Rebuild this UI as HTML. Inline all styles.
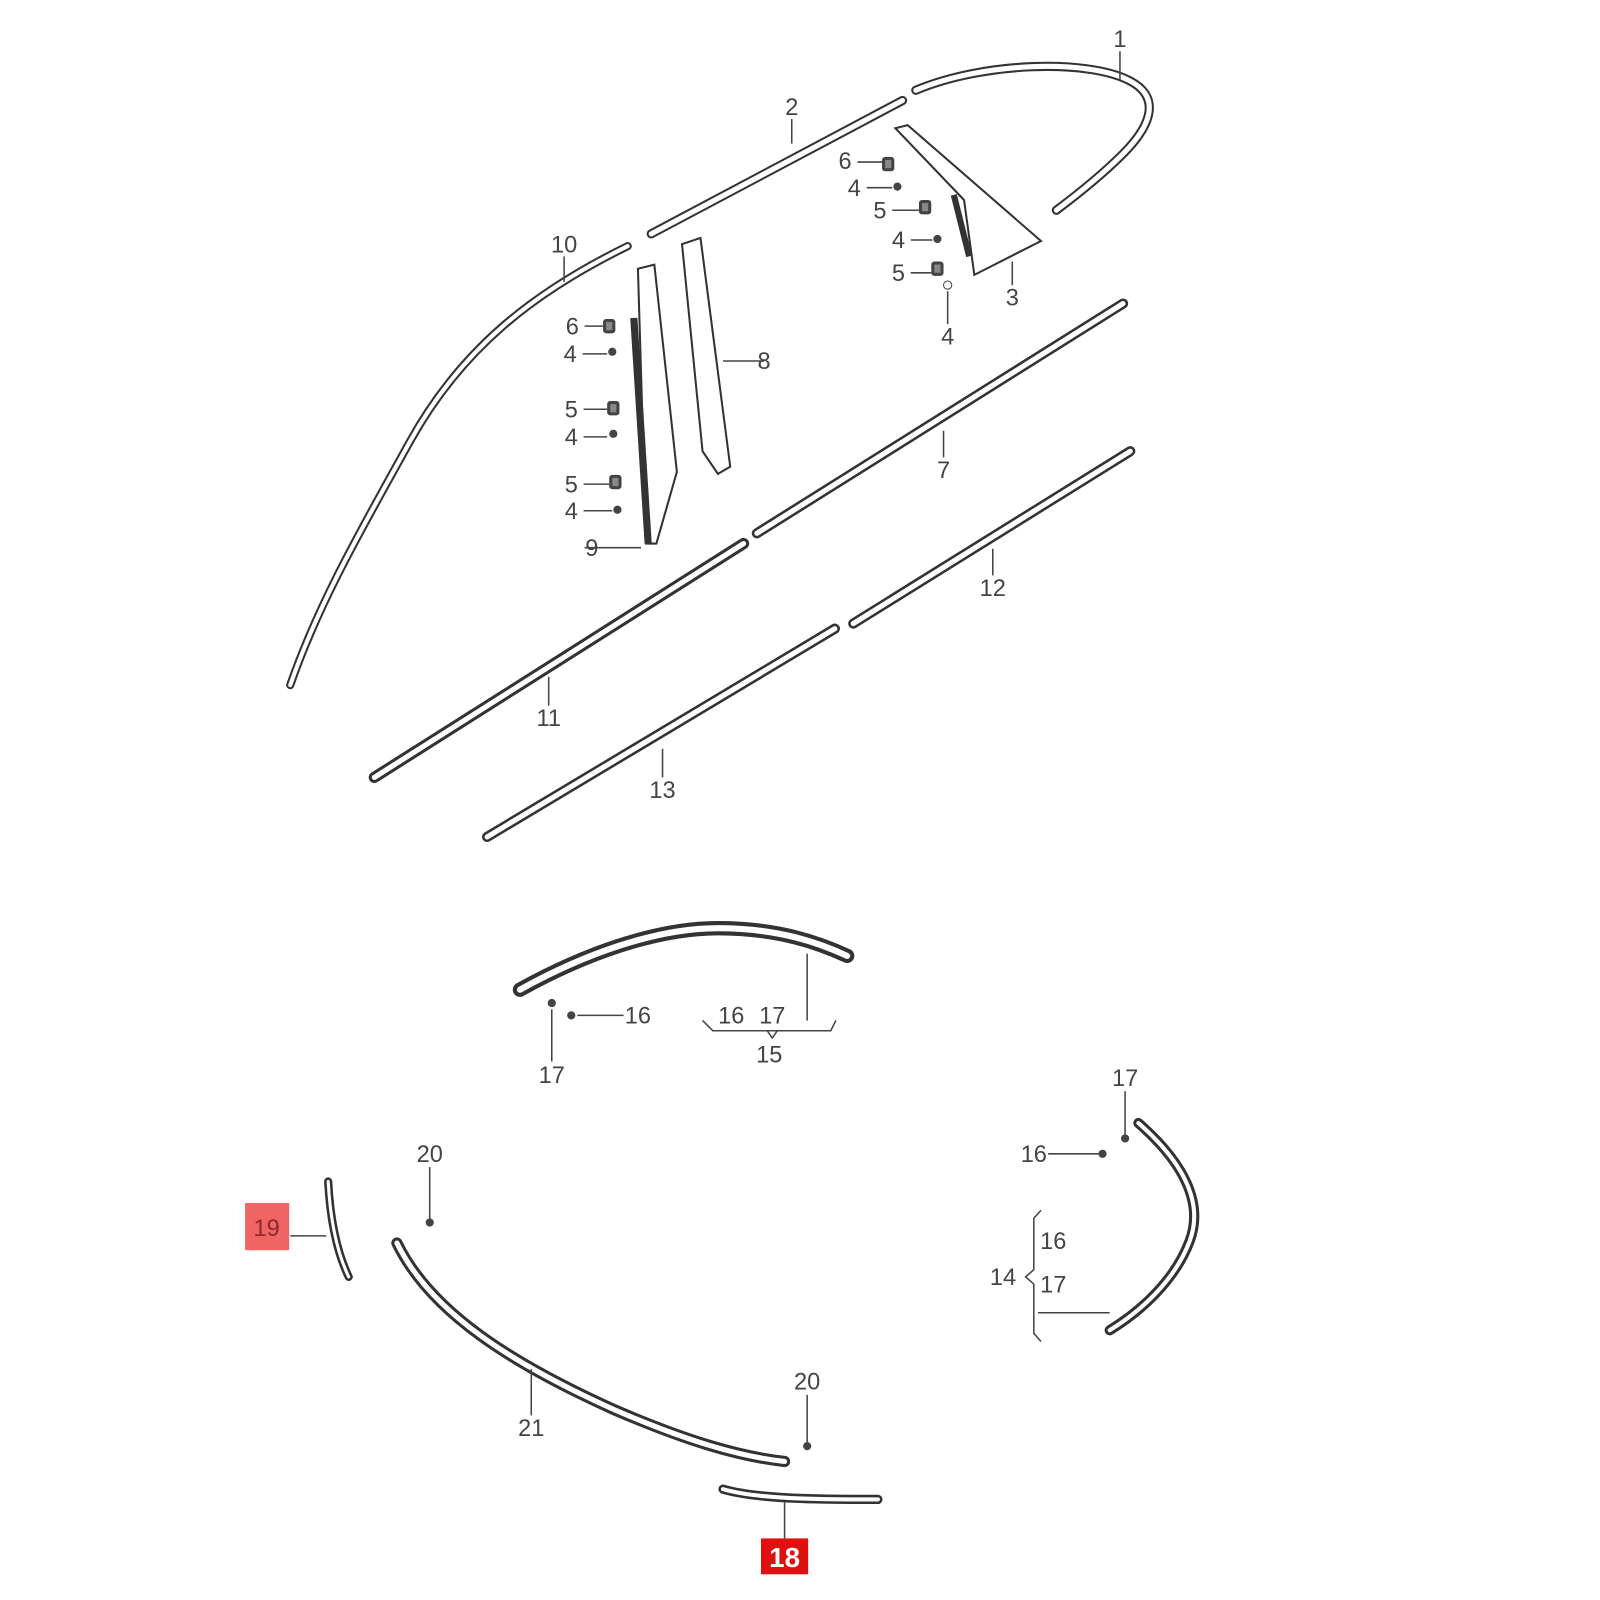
<!DOCTYPE html>
<html><head><meta charset="utf-8"><style>
html,body{margin:0;padding:0;background:#fff}
svg{display:block}
text{font-family:"Liberation Sans",sans-serif;font-size:23px;fill:#444}
.o{fill:none;stroke:#333;stroke-linecap:round;stroke-linejoin:round}
.i{fill:none;stroke:#fff;stroke-linecap:round;stroke-linejoin:round}
.l{stroke:#444;stroke-width:1.5;fill:none}
</style></head><body>
<svg width="1600" height="1600" viewBox="0 0 1600 1600">
<defs>
<g id="dot"><circle r="4" fill="#444"/></g>
<g id="nut"><rect x="-6" y="-7" width="12" height="14" rx="3" fill="#444"/><rect x="-3" y="-4" width="6" height="8" fill="#888"/></g>
</defs>
<g transform="scale(1.0256)">
<g>
<path class="o" stroke-width="9" d="M893,88 C960,60 1060,58 1100,78 C1135,95 1120,125 1095,150 C1075,170 1050,190 1030,205"/>
<path class="i" stroke-width="5" d="M893,88 C960,60 1060,58 1100,78 C1135,95 1120,125 1095,150 C1075,170 1050,190 1030,205"/>
<path class="o" stroke-width="9" d="M635,228 L880,98"/><path class="i" stroke-width="5" d="M635,228 L880,98"/>
<path class="o" stroke-width="8" d="M612,240 C520,285 450,340 400,430 C350,520 310,590 283,668"/>
<path class="i" stroke-width="4" d="M612,240 C520,285 450,340 400,430 C350,520 310,590 283,668"/>
<path class="o" stroke-width="10" d="M738,520 L1095,296"/><path class="i" stroke-width="5" d="M738,520 L1095,296"/>
<path class="o" stroke-width="11" d="M365,758 L725,530"/><path class="i" stroke-width="5" d="M365,758 L725,530"/>
<path class="o" stroke-width="10" d="M832,608 L1102,440"/><path class="i" stroke-width="5" d="M832,608 L1102,440"/>
<path class="o" stroke-width="10" d="M475,816 L814,613"/><path class="i" stroke-width="5" d="M475,816 L814,613"/>
<path d="M873,125 L885,122 L1015,235 L950,268 L940,195 Z" fill="#fff" stroke="#333" stroke-width="2"/>
<path d="M930,190 L945,250" stroke="#333" stroke-width="6"/>
<path d="M665,238 L683,232 L712,455 L700,462 L685,440 Z" fill="#fff" stroke="#333" stroke-width="2"/>
<path d="M622,262 L638,258 L660,460 L640,530 L630,530 Z" fill="#fff" stroke="#333" stroke-width="2"/>
<path d="M618,310 L632,530" stroke="#333" stroke-width="7"/>
<path class="o" stroke-width="14" d="M507,965 C570,930 640,905 700,905 C760,905 800,920 826,932"/>
<path class="i" stroke-width="6" d="M507,965 C570,930 640,905 700,905 C760,905 800,920 826,932"/>
<path class="o" stroke-width="8" d="M320,1152 C322,1190 328,1220 340,1245"/>
<path class="i" stroke-width="3" d="M320,1152 C322,1190 328,1220 340,1245"/>
<path class="o" stroke-width="11" d="M387,1212 C420,1280 500,1330 600,1375 C670,1405 720,1420 765,1425"/>
<path class="i" stroke-width="5" d="M387,1212 C420,1280 500,1330 600,1375 C670,1405 720,1420 765,1425"/>
<path class="o" stroke-width="9" d="M705,1452 C740,1462 800,1462 856,1462"/>
<path class="i" stroke-width="4" d="M705,1452 C740,1462 800,1462 856,1462"/>
<path class="o" stroke-width="10" d="M1110,1095 C1150,1130 1175,1170 1160,1210 C1145,1250 1110,1280 1082,1297"/>
<path class="i" stroke-width="4" d="M1110,1095 C1150,1130 1175,1170 1160,1210 C1145,1250 1110,1280 1082,1297"/>
</g>
<use href="#nut" x="866" y="160"/><use href="#dot" x="875" y="182"/><use href="#nut" x="902" y="202"/>
<use href="#dot" x="914" y="233"/><use href="#nut" x="914" y="262"/><circle cx="924" cy="278" r="4" fill="none" stroke="#444"/>
<use href="#nut" x="594" y="318"/><use href="#dot" x="597" y="343"/><use href="#nut" x="598" y="398"/>
<use href="#dot" x="598" y="423"/><use href="#nut" x="600" y="470"/><use href="#dot" x="602" y="497"/>
<use href="#dot" x="557" y="990"/><use href="#dot" x="538" y="978"/>
<use href="#dot" x="419" y="1192"/><use href="#dot" x="787" y="1410"/>
<use href="#dot" x="1075" y="1125"/><use href="#dot" x="1097" y="1110"/>
<g class="l">
<path d="M1092,50V78M772,116V140M550,250V275M987,255V278M920,420V446M535,660V688M968,535V561M646,730V758M745,352H705M570,534H625"/>
<path d="M836,158H860M845,183H870M870,205H896M888,234H909M888,266H908M924,284V316"/>
<path d="M570,318H588M568,345H592M569,399H592M569,426H592M569,472H594M569,498H597"/>
<path d="M563,990H608M538,984V1035M787,930V995M685,995L695,1005H810L815,995M748,1005L753,1012L758,1005"/>
<path d="M283,1205H318M419,1138V1188M518,1335V1380M787,1360V1406M765,1465V1500"/>
<path d="M1097,1064V1106M1022,1125H1071M1015,1180L1008,1188V1238L1000,1245L1008,1252V1300L1015,1308M1012,1280H1082"/>
</g>
<g text-anchor="middle">
<text x="1092" y="46">1</text><text x="772" y="112">2</text><text x="550" y="246">10</text><text x="987" y="298">3</text>
<text x="824" y="165">6</text><text x="833" y="191">4</text><text x="858" y="213">5</text><text x="876" y="242">4</text><text x="876" y="274">5</text><text x="924" y="336">4</text>
<text x="745" y="360">8</text><text x="577" y="542">9</text>
<text x="558" y="326">6</text><text x="556" y="353">4</text><text x="557" y="407">5</text><text x="557" y="434">4</text><text x="557" y="480">5</text><text x="557" y="506">4</text>
<text x="920" y="466">7</text><text x="535" y="708">11</text><text x="968" y="581">12</text><text x="646" y="778">13</text>
<text x="622" y="998">16</text><text x="538" y="1056">17</text><text x="713" y="998">16</text><text x="753" y="998">17</text><text x="750" y="1036">15</text>
<text x="419" y="1133">20</text><text x="518" y="1400">21</text><text x="787" y="1355">20</text>
<text x="1097" y="1059">17</text><text x="1008" y="1133">16</text><text x="1027" y="1218">16</text><text x="1027" y="1260">17</text><text x="978" y="1253">14</text>
</g>
<rect x="239" y="1173" width="43" height="46" fill="#f06464"/>
<text x="260" y="1205" text-anchor="middle" style="fill:#8a2a2a">19</text>
<rect x="742" y="1500" width="46" height="35" fill="#e01010"/>
<text x="765" y="1528" text-anchor="middle" style="fill:#fff;font-weight:bold;font-size:27px">18</text>
</g>
</svg>
</body></html>
